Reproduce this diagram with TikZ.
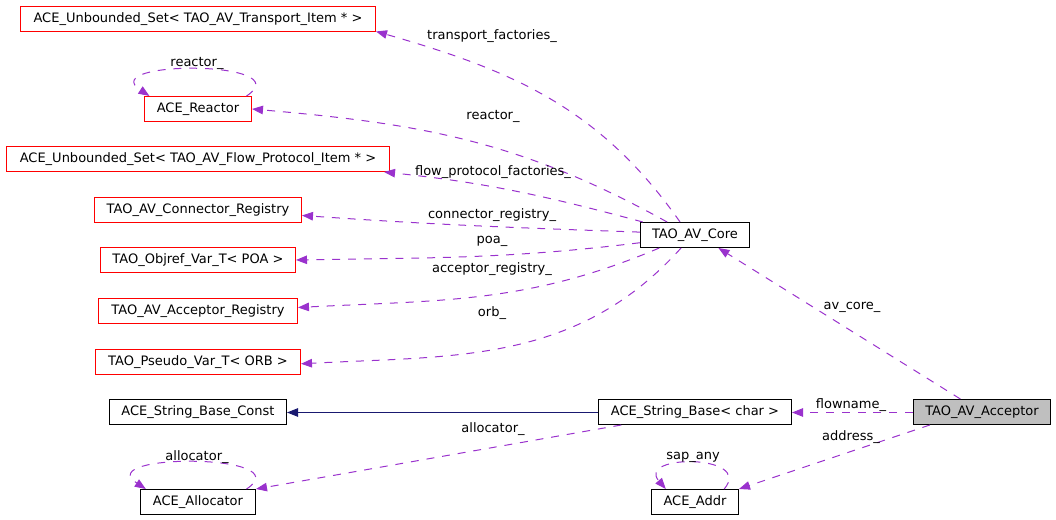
\documentclass[tikz,border=0pt]{standalone}
\usepackage{fontspec}
\setmainfont{DejaVu Sans}
\usetikzlibrary{arrows.meta}
\definecolor{usecol}{HTML}{9A32CD}
\definecolor{inhcol}{HTML}{191970}
\definecolor{boxgray}{HTML}{BFBFBF}

\begin{document}
\begin{tikzpicture}[
        every node/.style={font=\fontsize{7.4}{8.8}\selectfont},
        cls/.style={draw=black, line width=0.02cm, minimum height=0.5cm, inner xsep=0.1cm, inner ysep=0.05cm},
        ext/.style={cls, draw=red},
        usage/.style={draw=usecol, line width=0.02cm, dash pattern=on 4.5pt off 4.5pt,
            -{Triangle[length=0.22cm,width=0.17cm]}},
        inherit/.style={draw=inhcol, line width=0.02cm, -{Triangle[length=0.22cm,width=0.17cm]}}]
        \useasboundingbox (0, 0) rectangle (21.12, -10.4);

        \node[ext, minimum width=7.10cm] (trans) at (3.96, -0.38) {ACE\_Unbounded\_Set< TAO\_AV\_Transport\_Item * >};
        \node[ext, minimum width=2.14cm] (reactor) at (3.96, -2.18) {ACE\_Reactor};
        \node[ext, minimum width=7.66cm] (flow) at (3.96, -3.18) {ACE\_Unbounded\_Set< TAO\_AV\_Flow\_Protocol\_Item * >};
        \node[ext, minimum width=4.14cm] (connreg) at (3.96, -4.20) {TAO\_AV\_Connector\_Registry};
        \node[ext, minimum width=3.90cm] (objref) at (3.96, -5.20) {TAO\_Objref\_Var\_T< POA >};
        \node[ext, minimum width=3.98cm] (accreg) at (3.96, -6.22) {TAO\_AV\_Acceptor\_Registry};
        \node[ext, minimum width=4.10cm] (pseudo) at (3.96, -7.24) {TAO\_Pseudo\_Var\_T< ORB >};
        \node[cls, minimum width=3.54cm] (strconst) at (3.96, -8.24) {ACE\_String\_Base\_Const};
        \node[cls, minimum width=2.30cm] (alloc) at (3.96, -10.04) {ACE\_Allocator};
        \node[cls, minimum width=2.18cm] (core) at (13.90, -4.70) {TAO\_AV\_Core};
        \node[cls, minimum width=3.86cm] (strbase) at (13.90, -8.24) {ACE\_String\_Base< char >};
        \node[cls, minimum width=2.74cm, fill=boxgray] (acceptor) at (19.64, -8.24) {TAO\_AV\_Acceptor};
        \node[cls, minimum width=1.74cm] (addr) at (13.90, -10.04) {ACE\_Addr};

        \foreach \s/\t/\e/\o/\i in {139/trans/-4/125/-16, 155/reactor/0/151/-5,
            166/flow/-4/165/-6, 177/connreg/-3/178/-4, 188/objref/0/187/1,
            200/accreg/2/203/3, 223/pseudo/-1/228/3}{
            \draw[usage] (core.\s) to[out=\o, in=\i] (\t.\e);
        };
        \node (lbltrans) at (9.84, -0.72) {transport\_factories\_};
        \node (lblreactor) at (9.86, -2.32) {reactor\_};
        \node (lblflow) at (9.86, -3.44) {flow\_protocol\_factories\_};
        \node (lblconnreg) at (9.84, -4.30) {connector\_registry\_};
        \node (lblpoa) at (9.84, -4.82) {poa\_};
        \node (lblaccreg) at (9.84, -5.38) {acceptor\_registry\_};
        \node (lblorb) at (9.84, -6.26) {orb\_};

        \draw[usage] (reactor.15) .. controls +(1.1, 0.72) and +(-1.1, 0.72) .. (reactor.165);
        \node (lblreactorself) at (3.94, -1.26) {reactor\_};
        \draw[usage] (alloc.15) .. controls +(1.1, 0.72) and +(-1.1, 0.72) .. (alloc.166);
        \node (lblallocself) at (3.94, -9.14) {allocator\_};
        \draw[usage] (addr.24) .. controls +(0.6, 0.7) and +(-0.6, 0.7) .. (addr.156);
        \node (lblsap) at (13.86, -9.14) {sap\_any};

        \draw[inherit] ([yshift=-0.01cm]strbase.west) -- ([yshift=-0.01cm]strconst.east);
        \draw[usage] (strbase.190) -- (alloc.north east);
        \node (lblalloc) at (9.86, -8.58) {allocator\_};

        \draw[usage] (acceptor.149) -- (core.-29);
        \node (lblavcore) at (17.04, -6.14) {av\_core\_};
        \draw[usage] ([yshift=-0.01cm]acceptor.west) -- ([yshift=-0.01cm]strbase.east);
        \node (lblflowname) at (17.02, -8.10) {flowname\_};
        \draw[usage] (acceptor.194) -- (addr.north east);
        \node (lbladdress) at (17.02, -8.74) {address\_};
    \end{tikzpicture}
\end{document}
